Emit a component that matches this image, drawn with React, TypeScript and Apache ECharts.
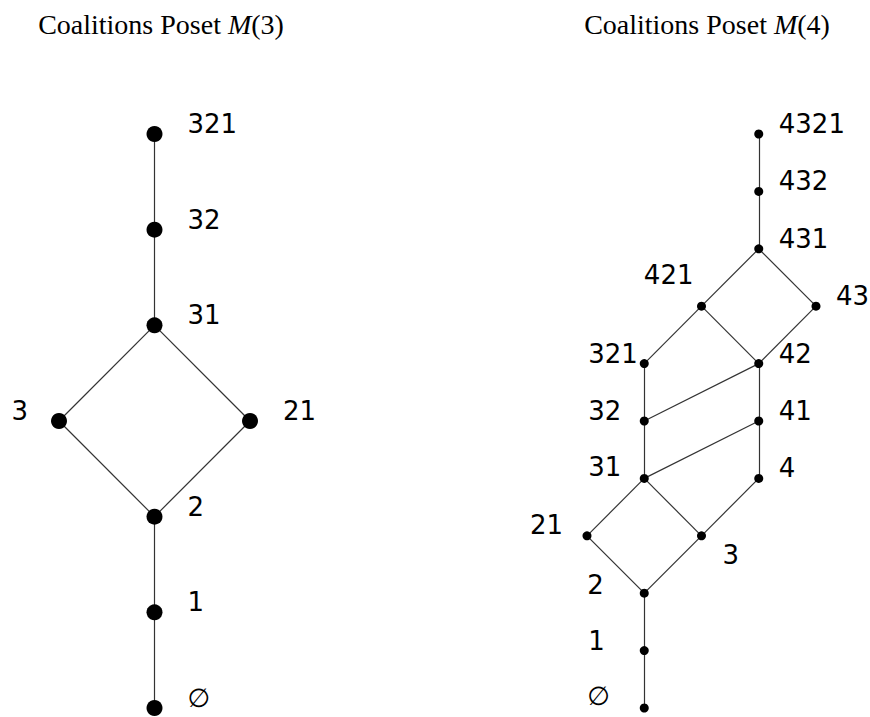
import React, { useEffect, useRef } from "react";
import * as echarts from "echarts";

// ---- M(3) data ----
const m3Nodes = ["321", "32", "31", "3", "21", "2", "1", "∅"];
const m3Col = [0, 0, 0, -1, 1, 0, 0, 0];
const m3Level = [6, 5, 4, 3, 3, 2, 1, 0];
const m3Edges: [string, string][] = [
  ["321", "32"], ["32", "31"], ["31", "3"], ["31", "21"],
  ["3", "2"], ["21", "2"], ["2", "1"], ["1", "∅"],
];

// ---- M(4) data ----
const m4Nodes = ["4321", "432", "431", "421", "43", "321", "42", "32", "41", "31", "4", "21", "3", "2", "1", "∅"];
const m4Col = [2, 2, 2, 1, 3, 0, 2, 0, 2, 0, 2, -1, 1, 0, 0, 0];
const m4Level = [10, 9, 8, 7, 7, 6, 6, 5, 5, 4, 4, 3, 3, 2, 1, 0];
const m4Edges: [string, string][] = [
  ["4321", "432"], ["432", "431"], ["431", "421"], ["431", "43"],
  ["421", "321"], ["421", "42"], ["43", "42"], ["321", "32"],
  ["42", "32"], ["42", "41"], ["32", "31"], ["41", "31"], ["41", "4"],
  ["31", "21"], ["31", "3"], ["4", "3"], ["21", "2"], ["3", "2"],
  ["2", "1"], ["1", "∅"],
];

const titles = ["Coalitions Poset ", "M", "(3)", "(4)"];

// ---- label placement (style, not data): [dx, dy, align] from node centre ----
type Place = [number, number, "left" | "right"];
const m3Place: Record<string, Place> = {
  "3": [-31, -10, "right"],
};
const m3Default: Place = [33, -10, "left"];
const m4Place: Record<string, Place> = {
  "421": [-8, -31, "right"],
  "3": [21, 19, "left"],
  "21": [-24, -11, "right"],
  "321": [-56, -10, "left"],
  "32": [-56, -10, "left"],
  "31": [-56, -11, "left"],
  "2": [-57, -8, "left"],
  "1": [-56, -10, "left"],
  "∅": [-57, -12, "left"],
};
const m4Default: Place = [20, -10, "left"];

function buildData(
  names: string[], cols: number[], levels: number[],
  place: Record<string, Place>, def: Place, size: number
) {
  return names.map((n, i) => {
    const p = place[n] || def;
    return {
      name: n,
      value: [cols[i], levels[i]],
      label: {
        position: [p[0] + size / 2, p[1] + size / 2],
        align: p[2],
        verticalAlign: "middle",
      },
    };
  });
}

export default function App() {
  const ref = useRef<HTMLDivElement>(null);
  useEffect(() => {
    if (!ref.current) return;
    const chart = echarts.init(ref.current, undefined, { renderer: "svg" });
    const s3 = 16;
    const s4 = 9;
    const labelBase = {
      show: true,
      formatter: "{b}",
      fontFamily: "DejaVu Sans",
      fontSize: 26,
      color: "#000",
    };
    const lineStyle = { color: "#333", width: 1.2, opacity: 1, curveness: 0 };
    const titleRich = {
      a: { fontFamily: "Liberation Serif", fontSize: 28, fontWeight: "normal", color: "#000", lineHeight: 32 },
      b: { fontFamily: "Liberation Serif", fontSize: 28, fontWeight: "normal", fontStyle: "italic", color: "#000", lineHeight: 32 },
    };
    chart.setOption({
      animation: false,
      backgroundColor: "#fff",
      title: [
        {
          text: `{a|${titles[0]}}{b|${titles[1]}}{a|${titles[2]}}`,
          left: 156, top: 3, textAlign: "center",
          textStyle: { fontWeight: "normal", fontSize: 28, rich: titleRich },
        },
        {
          text: `{a|${titles[0]}}{b|${titles[1]}}{a|${titles[3]}}`,
          left: 702, top: 3, textAlign: "center",
          textStyle: { fontWeight: "normal", fontSize: 28, rich: titleRich },
        },
      ],
      grid: [
        { left: 59, top: 134, width: 191, height: 574 },
        { left: 587, top: 134, width: 229, height: 574 },
      ],
      xAxis: [
        { type: "value", gridIndex: 0, min: -1, max: 1, show: false },
        { type: "value", gridIndex: 1, min: -1, max: 3, show: false },
      ],
      yAxis: [
        { type: "value", gridIndex: 0, min: 0, max: 6, show: false },
        { type: "value", gridIndex: 1, min: 0, max: 10, show: false },
      ],
      series: [
        {
          type: "graph",
          coordinateSystem: "cartesian2d",
          xAxisIndex: 0, yAxisIndex: 0,
          layout: "none",
          symbol: "circle",
          symbolSize: s3,
          itemStyle: { color: "#000" },
          lineStyle,
          label: labelBase,
          emphasis: { disabled: true },
          data: buildData(m3Nodes, m3Col, m3Level, m3Place, m3Default, s3),
          links: m3Edges.map(([a, b]) => ({ source: a, target: b })),
          z: 2,
        },
        {
          type: "graph",
          coordinateSystem: "cartesian2d",
          xAxisIndex: 1, yAxisIndex: 1,
          layout: "none",
          symbol: "circle",
          symbolSize: s4,
          itemStyle: { color: "#000" },
          lineStyle,
          label: labelBase,
          emphasis: { disabled: true },
          data: buildData(m4Nodes, m4Col, m4Level, m4Place, m4Default, s4),
          links: m4Edges.map(([a, b]) => ({ source: a, target: b })),
          z: 2,
        },
      ],
    });
    return () => chart.dispose();
  }, []);
  return (
    <div
      ref={ref}
      style={{ position: "fixed", left: 0, top: 0, width: 870, height: 717 }}
    />
  );
}
